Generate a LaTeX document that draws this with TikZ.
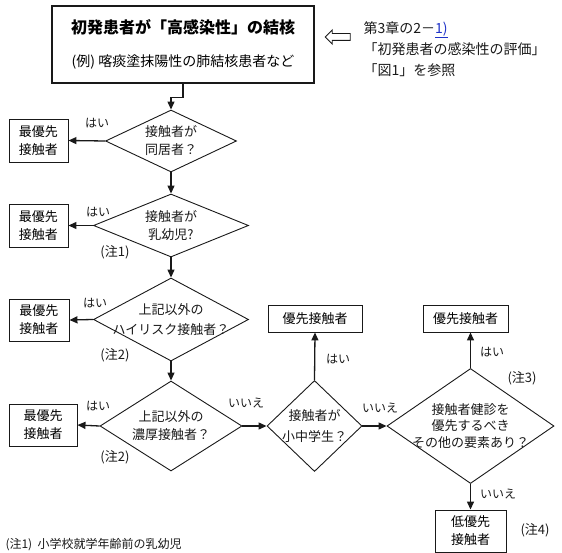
\documentclass[tikz,border=0pt]{standalone}
\usepackage{fontspec}
\setmainfont{Noto Sans CJK JP}
\usetikzlibrary{arrows.meta,shapes.geometric,shapes.arrows}
\definecolor{ink}{RGB}{25,25,25}
\definecolor{linkblue}{RGB}{30,50,200}
\tikzset{
  arr/.style={-{Triangle[length=8pt,width=7pt]},line width=1.3pt,draw=ink},
  srcbox/.style={draw=ink,line width=2.4pt,minimum width=262pt,minimum height=77pt,align=center,font=\fontsize{14}{20}\selectfont},
  dia/.style={diamond,draw=ink,line width=.9pt,inner sep=0pt},
  outbox/.style={draw=ink,line width=.9pt,align=center,inner sep=0pt,font=\fontsize{13}{18}\selectfont},
  txt/.style={align=center,text=ink,font=\fontsize{13}{18}\selectfont},
  lbl/.style={text=ink,font=\fontsize{12}{14}\selectfont},
  note/.style={text=ink,font=\fontsize{13}{15}\selectfont}
}
\begin{document}
\begin{tikzpicture}[x=1pt,y=-1pt]
  \useasboundingbox (0,0) rectangle (562,553);

  % source case
  \node[srcbox] (src) at (183,44.5) {{\bfseries\fontsize{16}{20}\selectfont 初発患者が「高感染性」の結核}\\[13pt]
    (例) 喀痰塗抹陽性の肺結核患者など};
  \node[single arrow,draw=ink,line width=.9pt,shape border rotate=180,minimum height=25pt,minimum width=13pt,
    single arrow head extend=3.5pt,inner sep=3pt] (refarr) at (339.5,37) {};
  \node[anchor=west,align=left,text=ink,font=\fontsize{14}{21}\selectfont] (ref) at (360,49)
    {第3章の2－\textcolor{linkblue}{\underline{1)}}\\「初発患者の感染性の評価」\\「図1」を参照};

  % questions
  \node[dia,minimum width=131pt,minimum height=62pt,label={[txt]center:{接触者が\\同居者？}}] (d1) at (171,141) {};
  \node[dia,minimum width=155pt,minimum height=63pt,label={[txt]center:{接触者が\\乳幼児?}}] (d2) at (171,225.5) {};
  \node[dia,minimum width=155pt,minimum height=83pt,label={[txt,font=\fontsize{13}{20}\selectfont]center:{上記以外の\\ハイリスク接触者？}}] (d3) at (171,319.5) {};
  \node[dia,minimum width=142pt,minimum height=90pt,label={[txt]center:{上記以外の\\濃厚接触者？}}] (d4) at (171,426) {};
  \node[dia,minimum width=95pt,minimum height=91pt,label={[txt,font=\fontsize{13}{21}\selectfont]center:{接触者が\\小中学生？}}] (d5) at (314.5,426) {};
  \node[dia,minimum width=167pt,minimum height=115pt,label={[txt,font=\fontsize{13}{16.5}\selectfont]center:{接触者健診を\\優先するべき\\その他の要素あり？}}] (d6) at (470.5,426) {};

  % outcomes
  \node[outbox,minimum width=59pt,minimum height=43pt] (b1) at (38.5,140.5) {最優先\\接触者};
  \node[outbox,minimum width=59pt,minimum height=43pt] (b2) at (38.5,225.5) {最優先\\接触者};
  \node[outbox,minimum width=60pt,minimum height=42pt] (b3) at (39,320) {最優先\\接触者};
  \node[outbox,minimum width=68pt,minimum height=42pt] (b4) at (43,425) {最優先\\接触者};
  \node[outbox,minimum width=94pt,minimum height=27pt] (b5) at (315,318.5) {優先接触者};
  \node[outbox,minimum width=85pt,minimum height=27pt] (b6) at (465.5,318.5) {優先接触者};
  \node[outbox,minimum width=71pt,minimum height=42pt] (b7) at (470.5,531) {低優先\\接触者};

  % flow
  \draw[arr] (src.south) -- ++(0,13) -| (d1.north);
  \draw[arr] (d1.south) -- (d2.north);
  \draw[arr] (d2.south) -- (d3.north);
  \draw[arr] (d3.south) -- (d4.north);
  \draw[arr] (d4.east) -- (d5.west);
  \draw[arr] (d5.east) -- (d6.west);
  \draw[arr] (d1.west) -- (b1.east);
  \draw[arr] (d2.west) -- (b2.east);
  \draw[arr] (d3.west) -- (b3.east);
  \draw[arr] (d4.west) -- (b4.east);
  \draw[arr] (d5.north) -- (b5.south);
  \draw[arr] (d6.north) -- (d6.north |- b6.south);
  \draw[arr] (d6.south) -- (b7.north);

  % answers and notes
  \node[lbl] (y1) at (97,123) {はい};
  \node[lbl] (y2) at (98,212) {はい};
  \node[lbl] (y3) at (95,303) {はい};
  \node[lbl] (y4) at (98,406) {はい};
  \node[lbl] (y5) at (338,359) {はい};
  \node[lbl] (y6) at (492,352) {はい};
  \node[lbl] (n4) at (246,403) {いいえ};
  \node[lbl] (n5) at (380,408) {いいえ};
  \node[lbl] (n6) at (498,494) {いいえ};
  \node[note] (c1) at (115,252) {(注1)};
  \node[note] (c2) at (115,355) {(注2)};
  \node[note] (c3) at (115,457) {(注2)};
  \node[note] (c4) at (522,378) {(注3)};
  \node[note] (c5) at (535,530) {(注4)};
  \node[note,anchor=west,font=\fontsize{12}{14}\selectfont] (fn) at (2,545) {(注1)\ \ 小学校就学年齢前の乳幼児};
\end{tikzpicture}
\end{document}
